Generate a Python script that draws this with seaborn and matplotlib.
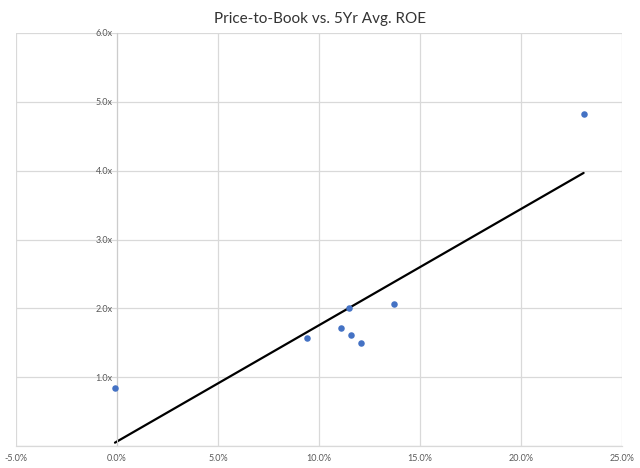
import matplotlib
matplotlib.use("Agg")
import matplotlib.pyplot as plt
import matplotlib.ticker as mticker
import seaborn as sns
import pandas as pd

# Data
roe = [-0.001, 0.094, 0.111, 0.115, 0.116, 0.121, 0.137, 0.231]
pb = [0.84, 1.57, 1.71, 2.01, 1.61, 1.49, 2.07, 4.83]
x_ticks = [-0.05, 0.0, 0.05, 0.10, 0.15, 0.20, 0.25]
y_ticks = [0, 1, 2, 3, 4, 5, 6]
title = "Price-to-Book vs. 5Yr Avg. ROE"

df = pd.DataFrame({"roe": roe, "pb": pb})

sns.set_theme(style="white")
plt.rcParams['font.family'] = ['Lato', 'DejaVu Sans']

fig = plt.figure(figsize=(6.4, 4.68), dpi=100)
ax = fig.add_axes([16/640, 22/468, 606/640, 413/468])

sns.regplot(data=df, x="roe", y="pb", ax=ax, ci=None,
            scatter_kws=dict(s=22, color="#4472C4", alpha=1, linewidths=0, zorder=3),
            line_kws=dict(color="black", linewidth=1.6, zorder=2))

ax.set_xlim(-0.05, 0.25)
ax.set_ylim(0, 6)
ax.set_xticks(x_ticks)
ax.set_yticks(y_ticks)
ax.xaxis.set_major_formatter(mticker.FuncFormatter(lambda v, p: f"{v*100:.1f}%"))
ax.yaxis.set_major_formatter(mticker.FuncFormatter(lambda v, p: "-" if abs(v) < 1e-9 else f"{v:.1f}x"))

ax.grid(True, color="#d9d9d9", linewidth=0.9)
ax.set_axisbelow(True)
for s in ["top", "right"]:
    ax.spines[s].set_visible(False)
ax.spines["left"].set_position(("data", 0))
ax.spines["left"].set_color("#cccccc")
ax.spines["left"].set_linewidth(0.8)
ax.spines["bottom"].set_color("#d9d9d9")
ax.spines["bottom"].set_linewidth(0.9)

ax.tick_params(axis="both", length=0, labelsize=6.5, colors="#595959")
ax.tick_params(axis="y", pad=3)
ax.tick_params(axis="x", pad=6)
ax.set_xlabel("")
ax.set_ylabel("")

fig.suptitle(title, y=0.975, fontsize=11, color="#333333")

fig.savefig("out.png", dpi=100, facecolor="white")
